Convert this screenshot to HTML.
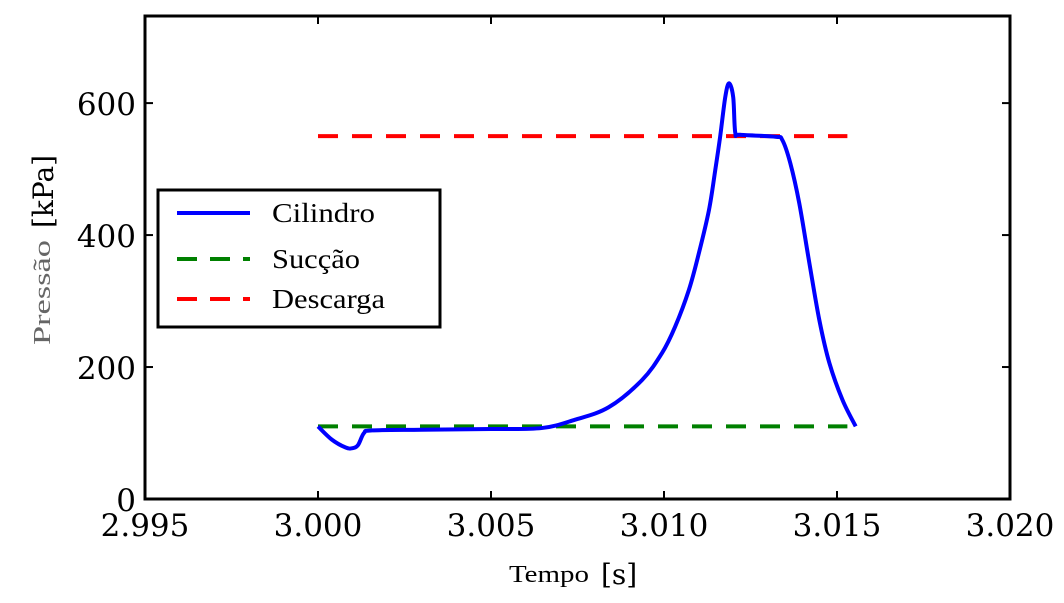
<!DOCTYPE html>
<html><head><meta charset="utf-8"><style>
body{margin:0;background:#fff}
svg{display:block;font-family:"Liberation Serif",serif}
.dv{font-family:"DejaVu Serif",serif}
</style></head><body>
<svg id="chart" width="1064" height="603">
<g id="ticks"></g>
<g id="series"></g>
<rect x="145" y="16" width="865" height="483" fill="none" stroke="#000" stroke-width="3"/>
<g>
<rect x="158" y="190" width="282" height="137" fill="#fff" stroke="#000" stroke-width="3"/>
<line x1="177" y1="213" x2="250" y2="213" stroke="#0000ff" stroke-width="4"/>
<text x="272" y="222" font-size="27" textLength="103" lengthAdjust="spacingAndGlyphs">Cilindro</text>
<line x1="177" y1="259" x2="250" y2="259" stroke="#008000" stroke-width="4" stroke-dasharray="20 13"/>
<text x="272" y="268" font-size="27" textLength="88" lengthAdjust="spacingAndGlyphs">Sucção</text>
<line x1="177" y1="299" x2="250" y2="299" stroke="#ff0000" stroke-width="4" stroke-dasharray="20 13"/>
<text x="272" y="308" font-size="27" textLength="113" lengthAdjust="spacingAndGlyphs">Descarga</text>
</g>
<text transform="translate(50,345) rotate(-90)" font-size="24" fill="#666" textLength="105" lengthAdjust="spacingAndGlyphs">Pressão</text>
<text class="dv" transform="translate(53,228) rotate(-90)" font-size="28">[kPa]</text>
<text x="509" y="582" font-size="24" textLength="80" lengthAdjust="spacingAndGlyphs">Tempo</text>
<text class="dv" x="601" y="584" font-size="28">[s]</text>
</svg>
<script>
const xTicks=[2.995,3.000,3.005,3.010,3.015,3.020];
const xTickLabels=["2.995","3.000","3.005","3.010","3.015","3.020"];
const yTicks=[0,200,400,600];
const yTickLabels=["0","200","400","600"];
const cilT=[3.0000,3.0004,3.0008,3.0010,3.00116,3.00133,3.00156,3.0030,3.0050,3.00646,3.00742,3.0084,3.00936,3.00994,3.01032,3.01072,3.01101,3.0113,3.01148,3.01162,3.01177,3.01188,3.012,3.01206,3.0122,3.01322,3.01342,3.01365,3.01391,3.0142,3.01449,3.01478,3.01516,3.01554];
const cilP=[110,90,78,77,82,100,104,105,106,107.5,120,139,180,221,261,317,373,438,498,548,609,630,609,555,552,549,544,509,448,358,271,206,150,110];
const sucP=110, desP=550, lineStart=3.000, lineEnd=3.0153;
const X0=145,X1=1010,Y0=499,Y1=16,xmin=2.995,xmax=3.020,ymin=0,ymax=732;
const sx=v=>X0+(v-xmin)/(xmax-xmin)*(X1-X0);
const sy=v=>Y0-(v-ymin)/(ymax-ymin)*(Y0-Y1);
const NS="http://www.w3.org/2000/svg";
const tg=document.getElementById('ticks'), sg=document.getElementById('series');
function mk(tag,attrs,parent){const e=document.createElementNS(NS,tag);for(const k in attrs)e.setAttribute(k,attrs[k]);parent.appendChild(e);return e;}
xTicks.forEach((v,i)=>{const x=sx(v);
 const a=mk('line',{x1:x,y1:Y0,x2:x,y2:Y0-8,stroke:'#000','stroke-width':2},tg);
 
 
 const b=mk('line',{x1:x,y1:Y1,x2:x,y2:Y1+8,stroke:'#000','stroke-width':2},tg);
 
 
 const t=mk('text',{x:x,y:536,'text-anchor':'middle','font-size':31,'class':'dv'},tg);t.textContent=xTickLabels[i];
 
 
});
yTicks.forEach((v,i)=>{const y=sy(v);
 const a=mk('line',{x1:X0,y1:y,x2:X0+8,y2:y,stroke:'#000','stroke-width':2},tg);
 
 
 const b=mk('line',{x1:X1,y1:y,x2:X1-8,y2:y,stroke:'#000','stroke-width':2},tg);
 
 
 const t=mk('text',{x:136,y:y+12,'text-anchor':'end','font-size':31,'class':'dv'},tg);t.textContent=yTickLabels[i];
 
 
});
const s=mk('line',{x1:sx(lineStart),y1:sy(sucP),x2:sx(lineEnd),y2:sy(sucP),stroke:'#008000','stroke-width':4,'stroke-dasharray':'20 14'},sg);


const d=mk('line',{x1:sx(lineStart),y1:sy(desP),x2:sx(lineEnd),y2:sy(desP),stroke:'#ff0000','stroke-width':4,'stroke-dasharray':'20 14'},sg);


const pts=cilT.map((t,i)=>[sx(t),sy(cilP[i])]);
let path='M'+pts[0][0]+','+pts[0][1];
for(let i=0;i<pts.length-1;i++){
 const p0=pts[Math.max(0,i-1)],p1=pts[i],p2=pts[i+1],p3=pts[Math.min(pts.length-1,i+2)];
 const k=1/6;
 path+=' C'+(p1[0]+(p2[0]-p0[0])*k)+','+(p1[1]+(p2[1]-p0[1])*k)+' '+(p2[0]-(p3[0]-p1[0])*k)+','+(p2[1]-(p3[1]-p1[1])*k)+' '+p2[0]+','+p2[1];
}
const p=mk('path',{d:path,fill:'none',stroke:'#0000ff','stroke-width':4,'stroke-linejoin':'round'},sg);


</script>
</body></html>
